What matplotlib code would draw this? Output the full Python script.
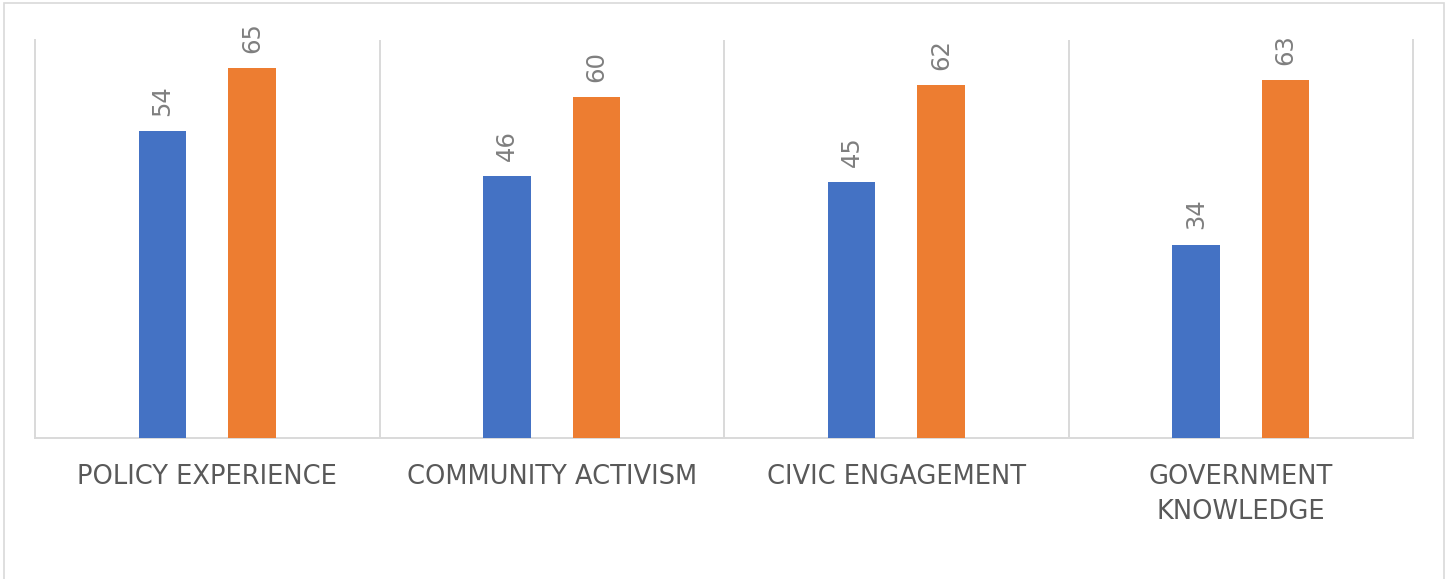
import matplotlib
matplotlib.use('Agg')
from matplotlib import pyplot as plt
from matplotlib.patches import Rectangle
import numpy as np

categories = ['POLICY EXPERIENCE', 'COMMUNITY ACTIVISM', 'CIVIC ENGAGEMENT', 'GOVERNMENT\nKNOWLEDGE']
series_a = [54, 46, 45, 34]
series_b = [65, 60, 62, 63]

blue = '#4472C4'
orange = '#ED7D31'
grid_col = '#d9d9d9'

fig = plt.figure(figsize=(14.5, 5.79), dpi=100)
ax = fig.add_axes([35/1450, 1-438/579, (1413-35)/1450, (438-40)/579])

# outer chart border
fig.patches.append(Rectangle((4/1450, -0.05), 1440/1450, 1.05 - 3/579,
                             transform=fig.transFigure, fill=False,
                             edgecolor=grid_col, linewidth=1.2))

x = np.arange(len(categories))
w = 0.137
off = 0.13
b1 = ax.bar(x - off, series_a, w, color=blue, zorder=3)
b2 = ax.bar(x + off, series_b, w, color=orange, zorder=3)

for bars in (b1, b2):
    ax.bar_label(bars, rotation=90, padding=11, fontsize=17.5, color='#7f7f7f')

ax.set_xlim(-0.5, len(categories) - 0.5)
ax.set_ylim(0, 70)

# category separators
for b in np.arange(0.5, len(categories) - 0.5, 1):
    ax.axvline(b, color=grid_col, linewidth=1.4, zorder=1)

ax.spines['top'].set_visible(False)
for s in ['left', 'right', 'bottom']:
    ax.spines[s].set_color(grid_col)
    ax.spines[s].set_linewidth(1.4)

ax.set_yticks([])
ax.set_xticks(x)
ax.set_xticklabels(categories, fontsize=18.5, color='#595959', linespacing=1.45)
ax.tick_params(axis='x', length=0, pad=19)

fig.savefig('out.png', dpi=100)
